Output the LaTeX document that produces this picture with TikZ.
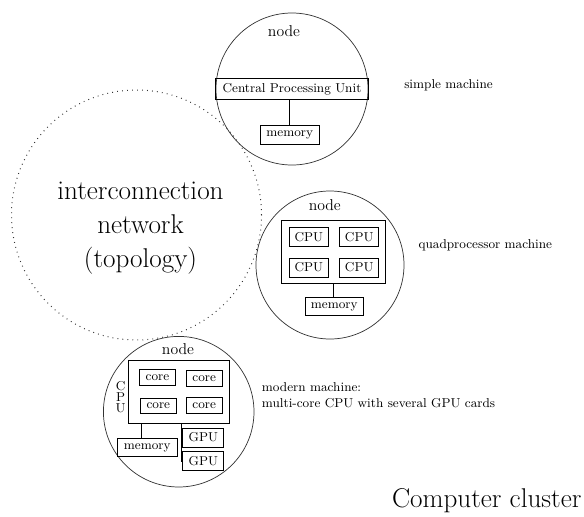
\documentclass[tikz,border=0pt]{standalone}
\begin{document}
\begin{tikzpicture}[x=0.7pt, y=-0.7pt,
  machine/.style={draw=black!80, line width=0.5pt, circle, inner sep=0pt, minimum size=#1},
  unit/.style={draw, line width=0.6pt, inner sep=0pt, font=\small},
  board/.style={draw, line width=0.6pt, inner sep=0pt},
  nodelabel/.style={font=\fontsize{11}{13}\selectfont, inner sep=0pt},
  caption/.style={font=\small, inner sep=0pt},
  link/.style={draw, line width=0.5pt}]
\useasboundingbox (0,0) rectangle (584,516);

% interconnection network
\node[circle, draw=black!80, line width=0.7pt, dash pattern=on 0.6pt off 2.9pt,
      minimum size=175pt, inner sep=0pt] (net) at (136.5,215) {};
\node[align=center, font=\fontsize{19}{23.8}\selectfont, inner sep=0pt] (netlabel) at (140.5,228.5)
  {interconnection\\network\\(topology)};

% simple machine
\node[machine=106.4pt] (m1) at (292,89) {};
\node[nodelabel, anchor=base] (m1label) at (284,36.7) {node};
\node[unit, minimum width=106.8pt, minimum height=15.2pt] (cpu1) at (292,89) {Central Processing Unit};
\node[unit, minimum width=41.1pt, minimum height=13.3pt] (mem1) at (289.7,134.5) {memory};
\draw[link] (mem1.north) -- (mem1.north |- cpu1.south);
\node[caption, anchor=base west] (c1) at (404,88.3) {simple machine};

% quadprocessor machine
\node[machine=103.6pt] (m2) at (330,265) {};
\node[nodelabel, anchor=base] (m2label) at (324.8,210) {node};
\node[board, minimum width=72.3pt, minimum height=44.3pt] (board2) at (333.3,251.7) {};
\node[unit, minimum width=27.3pt, minimum height=13.3pt] (q1) at (308.8,237.2) {CPU};
\node[unit, minimum width=27.3pt, minimum height=13.3pt] (q2) at (359.2,237.2) {CPU};
\node[unit, minimum width=27.3pt, minimum height=13.3pt] (q3) at (308.8,267.5) {CPU};
\node[unit, minimum width=27.3pt, minimum height=13.3pt] (q4) at (359.2,267.5) {CPU};
\node[unit, minimum width=40.8pt, minimum height=12.6pt] (mem2) at (334.2,306.7) {memory};
\draw[link] (board2.south) -- (board2.south |- mem2.north);
\node[caption, anchor=base west] (c2) at (418.3,248.3) {quadprocessor machine};

% modern machine
\node[machine=105.4pt] (m3) at (178.7,411.7) {};
\node[nodelabel, anchor=base] (m3label) at (178,354.3) {node};
\node[board, minimum width=70.5pt, minimum height=43.9pt] (board3) at (178.7,392) {};
\node[unit, minimum width=25.2pt, minimum height=10.9pt] (k1) at (157.5,377.5) {core};
\node[unit, minimum width=25.2pt, minimum height=10.9pt] (k2) at (204.2,378.5) {core};
\node[unit, minimum width=25.2pt, minimum height=10.9pt] (k3) at (158.3,406) {core};
\node[unit, minimum width=25.2pt, minimum height=10.9pt] (k4) at (204.2,405.7) {core};
\node[font=\small, align=center, inner sep=0pt] (cpulabel) at (120.7,397.5) {C\\[-3.3pt]P\\[-3.3pt]U};
\node[unit, minimum width=42pt, minimum height=12.8pt] (mem3) at (147.3,447.5) {memory};
\node[unit, minimum width=28.7pt, minimum height=13.3pt] (gpu1) at (203.3,437.5) {GPU};
\node[unit, minimum width=28.7pt, minimum height=13.3pt] (gpu2) at (203.3,461) {GPU};
\coordinate (memtap) at (141.7,447.5);
\draw[link] (board3.south -| memtap) -- (mem3.north -| memtap);
\coordinate (gpubus) at (181,461);
\draw[link] (board3.south -| gpubus) -- (gpubus) -- (gpu2.west);
\draw[link] (gpu1.west -| gpubus) -- (gpu1.west);
\node[caption, anchor=base west] (c3a) at (261.7,391.7) {modern machine:};
\node[caption, anchor=base west] (c3b) at (261.7,407.3) {multi-core CPU with several GPU cards};

% title
\node[font=\fontsize{19}{23}\selectfont, anchor=base, inner sep=0pt] (title) at (486.7,507.7) {Computer cluster};
\end{tikzpicture}
\end{document}
